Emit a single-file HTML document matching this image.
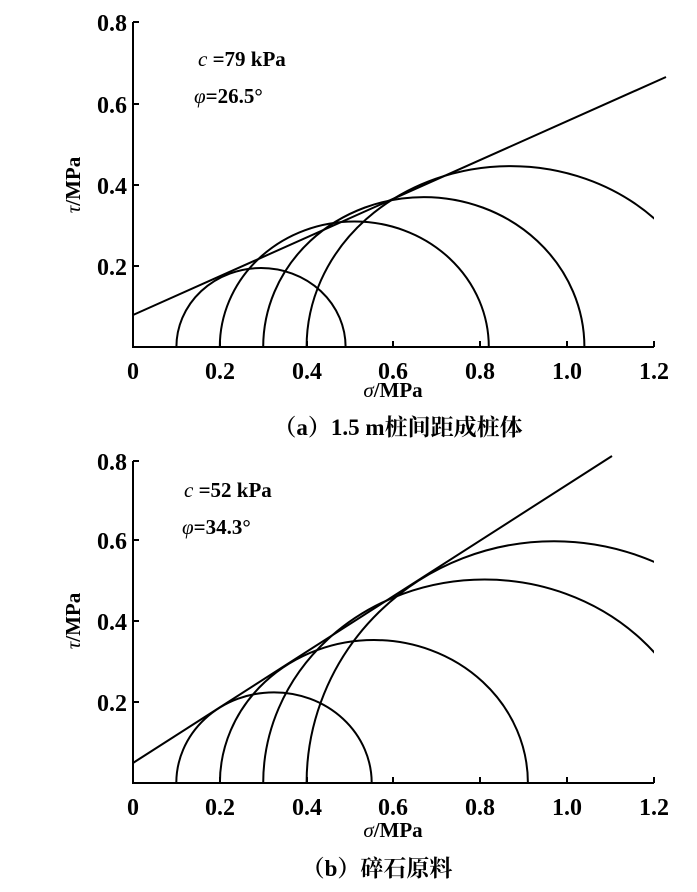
<!DOCTYPE html>
<html><head><meta charset="utf-8"><style>
html,body{margin:0;padding:0;background:#fff;}
svg{display:block;}
text{font-family:"Liberation Serif","Noto Serif CJK SC",serif;font-weight:bold;fill:#000;}
</style></head><body>
<svg width="697" height="892" viewBox="0 0 697 892" xmlns="http://www.w3.org/2000/svg">
<defs>
<clipPath id="c1"><rect x="133" y="0" width="521" height="348"/></clipPath>
<clipPath id="c1b"><rect x="133" y="0" width="560" height="348"/></clipPath>
<clipPath id="c2"><rect x="133" y="440" width="521" height="344"/></clipPath>
</defs>
<g stroke="#000" stroke-width="2" fill="none">
<path d="M133 22 V347 H654"/>
<path d="M133 22 h6 M133 104 h6 M133 185 h6 M133 266 h6"/>
<path d="M220 347 v-6 M307 347 v-6 M393 347 v-6 M480 347 v-6 M567 347 v-6 M654 347 v-6"/>
<path d="M133 315 L666 77"/>
<g clip-path="url(#c1)">
<path d="M176.4 347 A84.6 79 0 0 1 345.6 347"/>
<path d="M219.8 347 A134.5 125.6 0 0 1 488.8 347"/>
<path d="M263.2 347 A160.6 149.9 0 0 1 584.4 347"/>
<path d="M306.6 347 A204 181 0 0 1 714.6 347"/>
</g>
<path d="M133 461 V783 H654"/>
<path d="M133 461 h6 M133 540 h6 M133 621 h6 M133 702 h6"/>
<path d="M220 783 v-6 M307 783 v-6 M393 783 v-6 M480 783 v-6 M567 783 v-6 M654 783 v-6"/>
<g clip-path="url(#c2)">
<path d="M133 763 L612 456"/>
<path d="M176.3 783 A97.7 90.7 0 0 1 371.7 783"/>
<path d="M219.9 783 A154 143 0 0 1 527.9 783"/>
<path d="M263.2 783 A221.3 203.5 0 0 1 705.8 783"/>
<path d="M306.6 783 A247.4 241.8 0 0 1 801.4 783"/>
</g>
</g>
<g font-size="24">
<text x="127" y="31" text-anchor="end">0.8</text>
<text x="127" y="113" text-anchor="end">0.6</text>
<text x="127" y="194" text-anchor="end">0.4</text>
<text x="127" y="275" text-anchor="end">0.2</text>
<text x="133" y="379" text-anchor="middle">0</text>
<text x="220" y="379" text-anchor="middle">0.2</text>
<text x="307" y="379" text-anchor="middle">0.4</text>
<text x="393" y="379" text-anchor="middle">0.6</text>
<text x="480" y="379" text-anchor="middle">0.8</text>
<text x="567" y="379" text-anchor="middle">1.0</text>
<text x="654" y="379" text-anchor="middle">1.2</text>
<text x="127" y="470" text-anchor="end">0.8</text>
<text x="127" y="549" text-anchor="end">0.6</text>
<text x="127" y="630" text-anchor="end">0.4</text>
<text x="127" y="711" text-anchor="end">0.2</text>
<text x="133" y="815" text-anchor="middle">0</text>
<text x="220" y="815" text-anchor="middle">0.2</text>
<text x="307" y="815" text-anchor="middle">0.4</text>
<text x="393" y="815" text-anchor="middle">0.6</text>
<text x="480" y="815" text-anchor="middle">0.8</text>
<text x="567" y="815" text-anchor="middle">1.0</text>
<text x="654" y="815" text-anchor="middle">1.2</text>
</g>
<g font-size="21">
<text x="393" y="397" text-anchor="middle"><tspan font-style="italic" font-weight="normal">σ</tspan>/MPa</text>
<text x="393" y="837" text-anchor="middle"><tspan font-style="italic" font-weight="normal">σ</tspan>/MPa</text>
<text transform="translate(80 185) rotate(-90)" text-anchor="middle"><tspan font-style="italic" font-weight="normal">τ</tspan>/MPa</text>
<text transform="translate(80 621) rotate(-90)" text-anchor="middle"><tspan font-style="italic" font-weight="normal">τ</tspan>/MPa</text>
<text x="198" y="66"><tspan font-style="italic" font-weight="normal">c</tspan> =79 kPa</text>
<text x="194" y="103"><tspan font-style="italic" font-weight="normal">φ</tspan>=26.5°</text>
<text x="184" y="497"><tspan font-style="italic" font-weight="normal">c</tspan> =52 kPa</text>
<text x="182" y="534"><tspan font-style="italic" font-weight="normal">φ</tspan>=34.3°</text>
</g>
<g font-size="23">
<text x="398" y="435" text-anchor="middle">（a）1.5 m桩间距成桩体</text>
<text x="377" y="876" text-anchor="middle">（b）碎石原料</text>
</g>
</svg>
</body></html>
